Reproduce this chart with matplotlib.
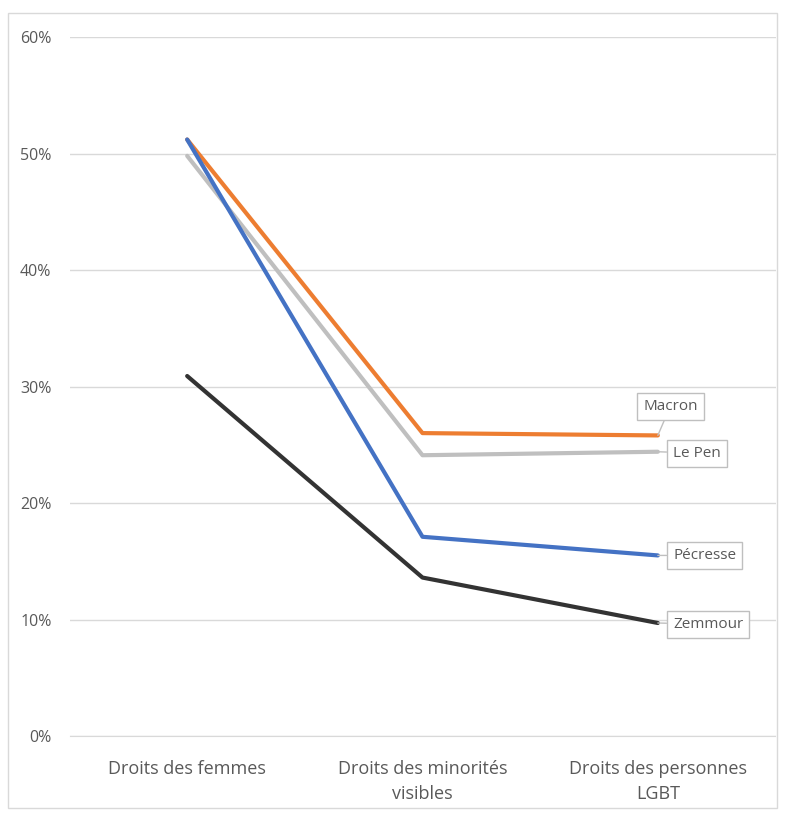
import matplotlib
matplotlib.use("Agg")
import matplotlib.pyplot as plt
from matplotlib.patches import Rectangle
from matplotlib.ticker import PercentFormatter

categories = ["Droits des femmes", "Droits des minorités\nvisibles", "Droits des personnes\nLGBT"]
macron = [51.2, 26.0, 25.8]
le_pen = [49.8, 24.1, 24.4]
pecresse = [51.2, 17.1, 15.5]
zemmour = [30.9, 13.6, 9.7]

SERIES = [
    ("Le Pen", le_pen, "#BFBFBF"),
    ("Macron", macron, "#ED7D31"),
    ("Pécresse", pecresse, "#4472C4"),
    ("Zemmour", zemmour, "#333333"),
]
# label offsets (points) for callouts at the last point
LABEL_OFFSETS = {
    "Macron": (9, 21),
    "Le Pen": (11, -1),
    "Pécresse": (11, 0),
    "Zemmour": (11, -1),
}

plt.rcParams["font.family"] = ["Open Sans", "DejaVu Sans"]
TEXT = "#595959"

fig = plt.figure(figsize=(7.85, 8.14), dpi=100)
W, H = 785, 814
ax = fig.add_axes([69.5 / W, 78 / H, 706 / W, (736 - 37) / H])

# outer chart border
fig.patches.append(Rectangle((8 / W, 6 / H), 769 / W, 795 / H, transform=fig.transFigure,
                             fill=False, edgecolor="#D9D9D9", linewidth=1.0))

x = list(range(len(categories)))
for name, vals, color in SERIES:
    ax.plot(x, vals, color=color, linewidth=3.0, solid_capstyle="round", zorder=3)

for name, vals, color in SERIES:
    dx, dy = LABEL_OFFSETS[name]
    ha = "left" if name != "Macron" else "center"
    ax.annotate(name, xy=(x[-1], vals[-1]), xytext=(dx, dy), textcoords="offset points",
                ha=ha, va="center", fontsize=11, color=TEXT,
                bbox=dict(boxstyle="square,pad=0.4", fc="white", ec="#BFBFBF", lw=1),
                arrowprops=dict(arrowstyle="-", color="#BFBFBF", lw=1, shrinkA=0, shrinkB=0),
                zorder=5)

ax.set_xlim(-0.5, 2.5)
ax.set_ylim(0, 60)
ax.set_yticks(range(0, 61, 10))
ax.yaxis.set_major_formatter(PercentFormatter(decimals=0))
ax.set_xticks(x)
ax.set_xticklabels(categories, fontsize=13, color=TEXT, linespacing=1.55)
ax.tick_params(axis="y", labelsize=11.5, colors=TEXT, length=0, pad=13)
ax.tick_params(axis="x", length=0, pad=17)
ax.grid(axis="y", color="#D9D9D9", linewidth=1)
ax.set_axisbelow(True)
for s in ["top", "right", "left"]:
    ax.spines[s].set_visible(False)
ax.spines["bottom"].set_color("#D9D9D9")

fig.savefig("out.png", dpi=100)
